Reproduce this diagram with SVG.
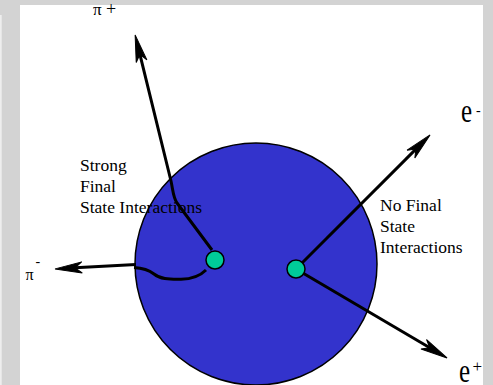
<svg xmlns="http://www.w3.org/2000/svg" width="493" height="385" viewBox="0 0 493 385">
  <style>
    .lbl { font-family: "Liberation Serif", "Times New Roman", serif; fill: #000; }
    .conn { fill: none; stroke: #000; stroke-width: 3; stroke-linejoin: round; }
    .dot { fill: #00cc99; stroke: #000; stroke-width: 1.5; }
  </style>
  <defs>
    <marker id="arr" markerUnits="userSpaceOnUse" orient="auto" refX="0" refY="0" markerWidth="40" markerHeight="20" overflow="visible">
      <path d="M20,0 L-7,-5.5 L0,0 L-7,5.5 Z" fill="#000" stroke="#000" stroke-width="1" stroke-linejoin="miter"/>
    </marker>
  </defs>
  <rect x="0" y="0" width="493" height="385" fill="#d3d3d3"/>
  <rect x="0" y="15" width="1.7" height="370" fill="#eeeeee"/>
  <rect x="20" y="5" width="463" height="380" fill="#ffffff"/>

  <g id="nucleus">
    <circle cx="256" cy="264" r="121" fill="#3333cc" stroke="#000" stroke-width="1.5"/>
  </g>

  <g id="label-strong">
    <text class="lbl" font-size="17.5" x="80" y="171">Strong</text>
    <text class="lbl" font-size="17.5" x="80" y="192">Final</text>
    <text class="lbl" font-size="17.5" x="80" y="213">State Interactions</text>
  </g>
  <g id="label-nofinal">
    <text class="lbl" font-size="17.5" x="380" y="211">No Final</text>
    <text class="lbl" font-size="17.5" x="380" y="232">State</text>
    <text class="lbl" font-size="17.5" x="380" y="253">Interactions</text>
  </g>

  <g id="connectors">
    <path class="conn" d="M212,250 L177,203 C173,197 173,190 171,181 L139.9,54.4" marker-end="url(#arr)"/>
    <line class="conn" x1="136" y1="264.5" x2="75" y2="267.8" marker-end="url(#arr)"/>
    <path class="conn" d="M134,267.5 C143,268 149,270 154,274 C160,279 168,279.5 181,279.3 C194,279 201,275 206,270"/>
    <line class="conn" x1="296" y1="269" x2="415.9" y2="149.1" marker-end="url(#arr)"/>
    <line class="conn" x1="296" y1="269" x2="429.8" y2="347.8" marker-end="url(#arr)"/>
  </g>

  <g id="vertex-hadron">
    <circle class="dot" cx="215" cy="260" r="9"/>
  </g>
  <g id="vertex-lepton">
    <circle class="dot" cx="296" cy="269" r="9"/>
  </g>

  <g id="label-piplus">
    <text class="lbl" font-size="17" x="93" y="15">π</text>
    <text class="lbl" font-size="18" x="106" y="15">+</text>
  </g>
  <g id="label-piminus">
    <text class="lbl" font-size="16" x="25.5" y="280">π</text>
    <text class="lbl" font-size="14" x="35.5" y="266">-</text>
  </g>
  <g id="label-eminus">
    <text class="lbl" font-size="25" transform="translate(461,122) scale(1,1.35)">e</text>
    <text class="lbl" font-size="14" x="476" y="114.5">-</text>
  </g>
  <g id="label-eplus">
    <text class="lbl" font-size="25" transform="translate(459,382) scale(1,1.35)">e</text>
    <text class="lbl" font-size="17" x="472.5" y="371.5">+</text>
  </g>
</svg>
